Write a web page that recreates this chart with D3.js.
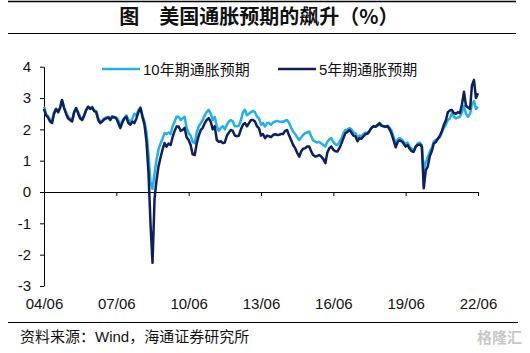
<!DOCTYPE html>
<html>
<head>
<meta charset="utf-8">
<script src="https://cdn.jsdelivr.net/npm/d3@7"></script>
<style>
body { margin: 0; background: #fff; }
svg text { font-family: "Liberation Sans", Arial, "Noto Sans CJK SC", sans-serif; fill: #111; }
</style>
</head>
<body>
<svg id="chart" width="530" height="353"></svg>
<script>
// monthly data, 2004-06 .. 2022-06 (%)
const firstMonth = new Date(2004, 5, 1);
const seriesNames = ["10年期通胀预期", "5年期通胀预期"];
const tickLabels = ["04/06", "07/06", "10/06", "13/06", "16/06", "19/06", "22/06"];
const yTicks = [-3, -2, -1, 0, 1, 2, 3, 4];

const tenYear = [
    2.72, 2.50, 2.42, 2.30, 2.28, 2.55, 2.65,
    2.55, 2.70, 2.92, 2.70, 2.55, 2.40, 2.35, 2.30, 2.55, 2.68, 2.55, 2.40,
    2.32, 2.45, 2.60, 2.72, 2.68, 2.72, 2.60, 2.58, 2.35, 2.25, 2.28, 2.35,
    2.38, 2.40, 2.35, 2.42, 2.40, 2.38, 2.30, 2.10, 2.28, 2.35, 2.45, 2.30,
    2.25, 2.35, 2.50, 2.45, 2.62, 2.70, 2.45, 2.25, 1.90, 1.20, 0.30, 0.10,
    0.60, 1.05, 1.35, 1.55, 1.70, 1.88, 1.85, 1.90, 1.85, 2.10, 2.25, 2.40,
    2.40, 2.30, 2.35, 2.40, 2.05, 1.88, 1.80, 1.60, 1.56, 1.90, 2.10, 2.20,
    2.30, 2.45, 2.55, 2.62, 2.50, 2.30, 2.40, 2.10, 1.95, 2.05, 2.10, 2.00,
    2.15, 2.25, 2.30, 2.25, 2.10, 2.10, 2.12, 2.30, 2.55, 2.62, 2.45, 2.50,
    2.55, 2.59, 2.55, 2.40, 2.36, 2.15, 2.20, 2.09, 2.20, 2.20, 2.15, 2.22,
    2.25, 2.27, 2.25, 2.24, 2.24, 2.28, 2.30, 2.20, 2.05, 1.93, 1.85, 1.75,
    1.66, 1.75, 1.82, 1.88, 1.90, 1.93, 1.78, 1.65, 1.61, 1.58, 1.60, 1.55,
    1.50, 1.45, 1.60, 1.68, 1.72, 1.60, 1.52, 1.50, 1.60, 1.70, 1.88, 1.98,
    2.00, 2.04, 2.00, 1.90, 1.88, 1.75, 1.80, 1.78, 1.85, 1.90, 1.88, 1.95,
    2.05, 2.10, 2.08, 2.12, 2.15, 2.12, 2.10, 2.10, 2.12, 2.05, 1.95, 1.75,
    1.55, 1.68, 1.72, 1.68, 1.60, 1.55, 1.58, 1.45, 1.38, 1.32, 1.45, 1.55,
    1.58, 1.50, 0.70, 0.95, 1.10, 1.30, 1.40, 1.62, 1.66, 1.70, 1.75, 1.90,
    2.05, 2.15, 2.30, 2.35, 2.52, 2.40, 2.35, 2.38, 2.40, 2.55, 2.75, 2.50,
    2.40, 2.50, 2.80, 2.90, 2.65, 2.72
];

const fiveYear = [
    2.65, 2.45, 2.38, 2.25, 2.20, 2.50, 2.65,
    2.55, 2.70, 2.94, 2.68, 2.50, 2.35, 2.30, 2.25, 2.55, 2.68, 2.50, 2.35,
    2.30, 2.45, 2.62, 2.72, 2.65, 2.70, 2.58, 2.55, 2.30, 2.20, 2.25, 2.32,
    2.35, 2.38, 2.30, 2.40, 2.38, 2.35, 2.20, 2.04, 2.22, 2.35, 2.40, 2.20,
    2.15, 2.25, 2.20, 2.35, 2.55, 2.68, 2.40, 2.15, 1.60, 0.60, -1.05, -2.26,
    -0.20, 0.40, 0.81, 1.10, 1.35, 1.56, 1.45, 1.55, 1.50, 1.75, 1.95, 2.09,
    2.09, 1.95, 1.98, 2.05, 1.75, 1.66, 1.50, 1.20, 1.18, 1.55, 1.80, 1.98,
    2.05, 2.20, 2.30, 2.36, 2.25, 2.00, 2.10, 1.66, 1.60, 1.62, 1.56, 1.58,
    1.80, 1.90, 1.98, 1.95, 1.80, 1.78, 1.80, 2.00, 2.15, 2.20, 2.10, 2.20,
    2.30, 2.30, 2.25, 2.10, 2.04, 1.80, 1.85, 1.72, 1.80, 1.78, 1.75, 1.82,
    1.85, 1.82, 1.83, 1.85, 1.85, 1.95, 1.98, 1.80, 1.65, 1.50, 1.40, 1.25,
    1.13, 1.30, 1.38, 1.40, 1.45, 1.45, 1.30, 1.18, 1.13, 1.15, 1.18, 1.13,
    1.05, 0.92, 1.25, 1.40, 1.45, 1.35, 1.30, 1.29, 1.40, 1.55, 1.72, 1.88,
    1.92, 1.98, 1.90, 1.80, 1.78, 1.62, 1.72, 1.70, 1.78, 1.85, 1.86, 1.95,
    2.05, 2.10, 2.08, 2.14, 2.20, 2.12, 2.10, 2.08, 2.10, 2.00, 1.85, 1.65,
    1.43, 1.60, 1.65, 1.62, 1.55, 1.45, 1.50, 1.38, 1.30, 1.28, 1.45, 1.50,
    1.52, 1.45, 0.12, 0.70, 0.81, 1.15, 1.30, 1.55, 1.60, 1.70, 1.80, 1.95,
    2.15, 2.30, 2.55, 2.60, 2.62, 2.52, 2.50, 2.55, 2.52, 2.80, 3.20, 2.75,
    2.70, 2.65, 3.40, 3.58, 3.00, 3.15
];

const colors = ["#1fb1ec", "#0d1f5c"];

const svg = d3.select("#chart");

const x = d3.scaleTime()
    .domain([firstMonth, d3.timeMonth.offset(firstMonth, 216)])
    .range([44, 478]);

const y = d3.scaleLinear()
    .domain([-3, 4])
    .range([286, 66.7]);

// title + rules
svg.append("line").attr("x1", 8).attr("x2", 516).attr("y1", 1.5).attr("y2", 1.5)
    .attr("stroke", "#000").attr("stroke-width", 1.5);
svg.append("line").attr("x1", 8).attr("x2", 516).attr("y1", 33.5).attr("y2", 33.5)
    .attr("stroke", "#000").attr("stroke-width", 1.2);
svg.append("text")
    .attr("x", 259).attr("y", 24)
    .attr("text-anchor", "middle")
    .style("font-family", "'Noto Sans CJK SC', sans-serif")
    .style("font-size", "20px")
    .style("font-weight", "bold")
    .text("图　美国通胀预期的飙升（%）");

// y axis
const yAxis = d3.axisLeft(y).tickValues(yTicks).tickSize(4).tickSizeOuter(0).tickFormat(d3.format("d"));
const gy = svg.append("g").attr("transform", "translate(44,0)").call(yAxis);
gy.select(".domain").attr("stroke", "#000");
gy.selectAll(".tick line").attr("stroke", "#000");
gy.selectAll(".tick text")
    .attr("x", -13)
    .style("font-size", "15px")
    .text(d => d < 0 ? "-" + Math.abs(d) : d);

// x axis on the zero line, labels at the bottom
const tickDates = tickLabels.map((d, i) => d3.timeMonth.offset(firstMonth, i * 36));
const xAxis = d3.axisBottom(x).tickValues(tickDates).tickSize(4).tickSizeOuter(0)
    .tickFormat((d, i) => tickLabels[i]);
const gx = svg.append("g").attr("transform", `translate(0,${y(0)})`).call(xAxis);
gx.select(".domain").attr("stroke", "#000");
gx.selectAll(".tick line").attr("stroke", "#000");
gx.selectAll(".tick text")
    .attr("y", y(-3) - y(0) + 12)
    .style("font-size", "15px");

// lines
const line = d3.line()
    .x((d, i) => x(d3.timeMonth.offset(firstMonth, i)))
    .y(d => y(d));

[tenYear, fiveYear].forEach((s, k) => {
    svg.append("path")
        .datum(s)
        .attr("fill", "none")
        .attr("stroke", colors[k])
        .attr("stroke-width", 2.5)
        .attr("stroke-linejoin", "round")
        .attr("d", line);
});

// legend
const legendX = [102, 278];
seriesNames.forEach((name, k) => {
    const g = svg.append("g").attr("transform", `translate(${legendX[k]},69)`);
    g.append("line").attr("x1", 0).attr("x2", 38).attr("y1", 0).attr("y2", 0)
        .attr("stroke", colors[k]).attr("stroke-width", 2.5);
    g.append("text").attr("x", 41).attr("y", 5.5)
        .style("font-size", "15px")
        .text(name);
});

// source
svg.append("line").attr("x1", 8).attr("x2", 518).attr("y1", 322.5).attr("y2", 322.5)
    .attr("stroke", "#000").attr("stroke-width", 1.2);
svg.append("text")
    .attr("x", 20).attr("y", 342)
    .style("font-size", "15px")
    .text("资料来源：Wind，海通证券研究所");
svg.append("text")
    .attr("x", 522).attr("y", 343)
    .attr("text-anchor", "end")
    .style("font-size", "15px")
    .style("font-weight", "bold")
    .style("fill", "#c8c8c8")
    .text("格隆汇");
</script>
</body>
</html>
